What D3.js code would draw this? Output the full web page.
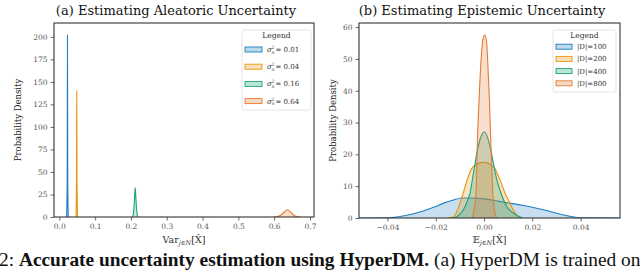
<!DOCTYPE html>
<html>
<head>
<meta charset="utf-8">
<script src="https://cdn.jsdelivr.net/npm/d3@7"></script>
<style>
  body { margin: 0; background: #fff; }
  svg { display: block; }
</style>
</head>
<body>
<div id="chart"></div>
<script>
// (a) aleatoric: noise levels and the KDE curves [x, density]
const aleatoricLabels = ["0.01", "0.04", "0.16", "0.64"];
const aleatoricCurves = [
  [[0.0205, 0], [0.0220, 40], [0.0228, 202], [0.0236, 40], [0.0250, 0]],
  [[0.0465, 0], [0.0480, 35], [0.0488, 140], [0.0496, 35], [0.0510, 0]],
  [[0.2040, 0], [0.2065, 3], [0.2085, 10], [0.2105, 24], [0.2120, 32.5], [0.2135, 24], [0.2155, 10], [0.2175, 3], [0.2200, 0]],
  [[0.600, 0], [0.610, 0.5], [0.620, 2.5], [0.628, 5.5], [0.637, 8], [0.646, 5.5], [0.654, 2.5], [0.662, 0.5], [0.672, 0]]
];
const aleatoricXTicks = [0.0, 0.1, 0.2, 0.3, 0.4, 0.5, 0.6, 0.7];
const aleatoricYTicks = [0, 25, 50, 75, 100, 125, 150, 175, 200];

// (b) epistemic: dataset sizes and KDE curves
const epistemicLabels = ["100", "200", "400", "800"];
const epistemicCurves = [
  [[-0.0517, 0], [-0.040, 0.05], [-0.036, 0.3], [-0.031, 1.0], [-0.027, 1.8], [-0.0237, 2.6], [-0.020, 3.6], [-0.017, 4.6],
   [-0.013, 5.6], [-0.009, 6.3], [-0.005, 6.3], [0.000, 6.0], [0.005, 5.4], [0.011, 4.6], [0.016, 4.0], [0.020, 3.4],
   [0.025, 2.5], [0.030, 1.5], [0.034, 0.8], [0.037, 0.35], [0.040, 0.1], [0.0563, 0]],
  [[-0.0150, 0], [-0.0127, 0.4], [-0.0113, 2], [-0.0100, 4.6], [-0.0086, 7.8], [-0.0070, 12], [-0.0044, 16.2], [-0.0003, 17.5],
   [0.0039, 16.2], [0.0066, 12], [0.0087, 7.8], [0.0108, 4.6], [0.0125, 2], [0.0140, 0.5], [0.0158, 0]],
  [[-0.0125, 0], [-0.0113, 0.4], [-0.0086, 2.5], [-0.0072, 4.8], [-0.0058, 7.8], [-0.0044, 14], [-0.0030, 20.3], [-0.0017, 24.6],
   [0.0003, 27.1], [0.0025, 22.4], [0.0039, 17.2], [0.0052, 12.3], [0.0066, 8.8], [0.0094, 3.6], [0.0135, 0.9], [0.0160, 0]],
  [[-0.0050, 0], [-0.0040, 3], [-0.0032, 10], [-0.0027, 25], [-0.0020, 38], [-0.0012, 50], [-0.0005, 56], [0.0004, 57.5],
   [0.0011, 55], [0.0016, 48], [0.0022, 38], [0.0029, 22], [0.0035, 10], [0.0042, 3], [0.0052, 0]]
];
const epistemicXTicks = [-0.04, -0.02, 0.00, 0.02, 0.04];
const epistemicYTicks = [0, 10, 20, 30, 40, 50, 60];

const colors = ["#1f7fc0", "#e8950f", "#1ea27c", "#e27d35"];

const width = 640, height = 273;
const serif = "'DejaVu Serif', serif";
const times = "'Liberation Serif', 'Times New Roman', serif";

const svg = d3.select("#chart").append("svg")
  .attr("width", width)
  .attr("height", height)
  .style("font-family", serif);

function panel(opts) {
  const x = d3.scaleLinear().domain(opts.xDomain).range([opts.left, opts.right]);
  const y = d3.scaleLinear().domain(opts.yDomain).range([opts.bottom, opts.top]);
  const g = svg.append("g");

  const area = d3.area().x(d => x(d[0])).y0(y(0)).y1(d => y(d[1])).curve(d3.curveMonotoneX);
  const line = d3.line().x(d => x(d[0])).y(d => y(d[1])).curve(d3.curveMonotoneX);

  const clip = "clip-" + opts.id;
  g.append("clipPath").attr("id", clip).append("rect")
    .attr("x", opts.left).attr("y", opts.top)
    .attr("width", opts.right - opts.left).attr("height", opts.bottom - opts.top);

  const plot = g.append("g").attr("clip-path", `url(#${clip})`);
  opts.curves.forEach((c, i) => {
    plot.append("path").attr("d", area(c))
      .attr("fill", colors[i]).attr("fill-opacity", 0.25);
    plot.append("path").attr("d", line(c))
      .attr("fill", "none").attr("stroke", colors[i]).attr("stroke-width", 1.1);
  });

  // axes
  const xAxis = g.append("g").attr("transform", `translate(0,${opts.bottom})`)
    .call(d3.axisBottom(x).tickValues(opts.xTicks).tickSize(3.5).tickPadding(3).tickFormat(opts.xFormat));
  const yAxis = g.append("g").attr("transform", `translate(${opts.left},0)`)
    .call(d3.axisLeft(y).tickValues(opts.yTicks).tickSize(3.5).tickPadding(3));
  [xAxis, yAxis].forEach(a => {
    a.select(".domain").remove();
    a.selectAll("line").attr("stroke", "#444").attr("stroke-width", 0.8);
    a.selectAll("text").attr("fill", "#555").style("font-size", "7.5px").style("font-family", serif);
  });

  // frame
  g.append("rect")
    .attr("x", opts.left).attr("y", opts.top)
    .attr("width", opts.right - opts.left).attr("height", opts.bottom - opts.top)
    .attr("fill", "none").attr("stroke", "#333").attr("stroke-width", 1.1);

  // title
  g.append("text")
    .attr("x", opts.titleX).attr("y", 15)
    .attr("text-anchor", "middle")
    .style("font-size", "13px").attr("fill", "#111")
    .text(opts.title);

  // y label
  g.append("text")
    .attr("transform", `translate(${opts.yLabelX},${(opts.top + opts.bottom) / 2}) rotate(-90)`)
    .attr("text-anchor", "middle")
    .style("font-size", "8.5px").attr("fill", "#222")
    .text("Probability Density");

  // x label
  const xl = g.append("text")
    .attr("x", (opts.left + opts.right) / 2).attr("y", 242.5)
    .attr("text-anchor", "middle")
    .style("font-size", "9.5px").attr("fill", "#333");
  xl.append("tspan").text(opts.xLabelHead);
  xl.append("tspan").attr("dy", 2.5).style("font-size", "6.5px").style("font-style", "italic").text("j∈N");
  xl.append("tspan").attr("dy", -2.5).text("[X̂]");

  // legend
  const lg = g.append("g").attr("transform", `translate(${opts.legend.x},${opts.legend.y})`);
  lg.append("rect")
    .attr("width", opts.legend.w).attr("height", opts.legend.h)
    .attr("rx", 2).attr("fill", "#fff").attr("fill-opacity", 0.85)
    .attr("stroke", "#ddd").attr("stroke-width", 0.8);
  lg.append("text")
    .attr("x", opts.legend.w / 2).attr("y", 8)
    .attr("text-anchor", "middle")
    .style("font-size", "7.5px").attr("fill", "#333")
    .text("Legend");
  opts.labels.forEach((lab, i) => {
    const cy = opts.legend.row0 + i * opts.legend.rowH;
    lg.append("rect")
      .attr("x", opts.legend.px).attr("y", cy - 2.5)
      .attr("width", opts.legend.pw).attr("height", 5)
      .attr("fill", colors[i]).attr("fill-opacity", 0.3)
      .attr("stroke", colors[i]).attr("stroke-width", 0.9);
    opts.legendText(lg, opts.legend.tx, cy, lab);
  });
}

panel({
  id: "a",
  left: 54, right: 314, top: 23, bottom: 217,
  xDomain: [-0.0148, 0.7112], yDomain: [0, 215.4],
  curves: aleatoricCurves, labels: aleatoricLabels,
  xTicks: aleatoricXTicks, yTicks: aleatoricYTicks,
  xFormat: d3.format(".1f"),
  title: "(a) Estimating Aleatoric Uncertainty", titleX: 176,
  yLabelX: 21,
  xLabelHead: "Var",
  legend: { x: 242, y: 30, w: 69, h: 80, row0: 19.5, rowH: 17.2, px: 3, pw: 17, tx: 25 },
  legendText: (lg, tx, cy, lab) => {
    const fs = "7px";
    lg.append("text").attr("x", tx).attr("y", cy + 2.5)
      .style("font-size", fs).style("font-style", "italic").attr("fill", "#333").text("σ");
    lg.append("text").attr("x", tx + 4.6).attr("y", cy - 0.6)
      .style("font-size", "4.5px").attr("fill", "#333").text("2");
    lg.append("text").attr("x", tx + 4.6).attr("y", cy + 4)
      .style("font-size", "4.5px").style("font-style", "italic").attr("fill", "#333").text("n");
    lg.append("text").attr("x", tx + 8.5).attr("y", cy + 2.5)
      .style("font-size", fs).attr("fill", "#333").text("= " + lab);
  }
});

panel({
  id: "b",
  left: 359, right: 620, top: 23, bottom: 218,
  xDomain: [-0.05176, 0.0563], yDomain: [0, 61.3],
  curves: epistemicCurves, labels: epistemicLabels,
  xTicks: epistemicXTicks, yTicks: epistemicYTicks,
  xFormat: d => (d < 0 ? "−" : "") + d3.format(".2f")(Math.abs(d)),
  title: "(b) Estimating Epistemic Uncertainty", titleX: 482,
  yLabelX: 336,
  xLabelHead: "𝔼",
  legend: { x: 553, y: 30, w: 63, h: 62, row0: 16.7, rowH: 12.2, px: 3, pw: 16, tx: 24 },
  legendText: (lg, tx, cy, lab) => {
    lg.append("text").attr("x", tx).attr("y", cy + 2.5)
      .style("font-size", "7px").attr("fill", "#333").text("|D|=" + lab);
  }
});

// caption line (cut off by the crop)
const cap = svg.append("text")
  .attr("x", -1).attr("y", 266)
  .style("font-family", times)
  .style("font-size", "19px").attr("fill", "#111");
cap.append("tspan").text("2: ");
cap.append("tspan").style("font-weight", "bold").text("Accurate uncertainty estimation using HyperDM.");
cap.append("tspan").text(" (a) HyperDM is trained on");
const capLen = cap.node().getComputedTextLength();
cap.style("font-size", (19 * 642 / capLen).toFixed(2) + "px");
</script>
</body>
</html>
